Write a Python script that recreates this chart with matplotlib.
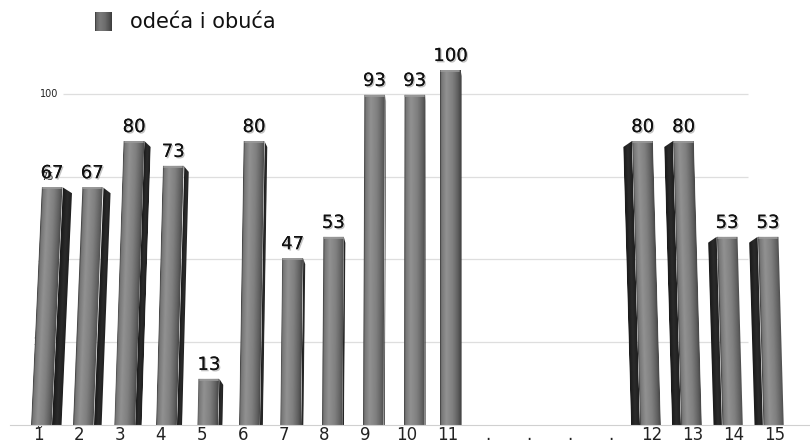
import numpy as np
import matplotlib.pyplot as plt
import matplotlib.transforms as mtransforms
from matplotlib.patches import Polygon
from matplotlib import patheffects

# x-axis slots: 11 days, a gap marked with dots, then 4 more days
tick_labels = ["1", "2", "3", "4", "5", "6", "7", "8", "9", "10", "11",
               ".", ".", ".", ".", "12", "13", "14", "15"]
bar_slots = [0, 1, 2, 3, 4, 5, 6, 7, 8, 9, 10, 15, 16, 17, 18]
values = [67, 67, 80, 73, 13, 80, 47, 53, 93, 93, 100, 80, 80, 53, 53]
grid_values = [0, 25, 50, 75, 100]
series_name = "odeća i obuća"

px_per_unit = 3.55      # bar height scale
px_per_slot = 40.94
depth = 0.933           # back wall grid sits a bit lower than bar fronts
front_w = 0.51          # width of the front face in slots

fig = plt.figure(figsize=(8.1, 4.45), dpi=100)
ax = fig.add_axes([10 / 810, 20 / 445, 800 / 810, 415 / 445])
xmin, xmax = -0.684, 18.857
ymax = 415 / px_per_unit

# horizontal shading profile of a bar front (left -> right)
prof_x = np.linspace(0, 1, 60)
front_profile = np.interp(prof_x, [0, 0.06, 0.3, 0.6, 0.85, 1.0],
                          [0.22, 0.46, 0.57, 0.5, 0.38, 0.27])
side_profile = np.interp(prof_x, [0, 0.5, 1.0], [0.1, 0.17, 0.12])


def shaded(pts, x0, x1, top, profile, tr):
    poly = Polygon(pts, closed=True, facecolor="none", edgecolor="none",
                   transform=tr)
    ax.add_patch(poly)
    im = ax.imshow(profile[np.newaxis, :], cmap="gray", vmin=0, vmax=1,
                   extent=(x0, x1, 0, top), aspect="auto",
                   interpolation="bilinear", zorder=3)
    im.set_transform(tr)
    im.set_clip_path(poly)


# back wall grid and its labels
for g in grid_values:
    gy = g * depth
    lab_right = 0.49 - 0.1 * (100 - g) / 25 if g > 0 else 0.1
    if g > 0:
        ax.hlines(gy, lab_right + 0.12, 17.34, color="#dedede",
                  linewidth=0.9, zorder=1)
    ax.text(lab_right, gy, str(g), ha="right", va="center",
            fontsize=7, color="#222222", zorder=1)

for slot, v in zip(bar_slots, values):
    chamfer = 1.7
    if slot <= 10:
        off = 0.2 if slot < 10 else 0.08
        side_w = 0.02 + 0.22 * ((10 - slot) / 10) ** 2
        lean = 0.045 * ((10 - slot) / 10) ** 1.5
        left = slot + off - (front_w + side_w) / 2
        fx0, fx1 = left, left + front_w
        sx0, sx1 = fx1, fx1 + side_w
        side_pts = [(sx0, 0), (sx1, 0), (sx1, v - chamfer), (sx0, v)]
    else:
        off = -0.15
        side_w = 0.22
        lean = -0.028
        left = slot + off - (front_w + side_w) / 2
        sx0, sx1 = left, left + side_w
        fx0, fx1 = sx1, sx1 + front_w
        side_pts = [(sx0, 0), (sx1, 0), (sx1, v), (sx0, v - chamfer)]
    k = lean * px_per_unit / px_per_slot
    tr = mtransforms.Affine2D(np.array([[1, k, 0], [0, 1, 0], [0, 0, 1]])) \
        + ax.transData
    shaded(side_pts, sx0, sx1, v, side_profile, tr)
    shaded([(fx0, 0), (fx1, 0), (fx1, v), (fx0, v)], fx0, fx1, v,
           front_profile, tr)
    ax.plot([fx0 + 0.03, fx1 - 0.03], [v - 0.3, v - 0.3], color="#9a9a9a",
            linewidth=1.2, zorder=4, solid_capstyle="round", transform=tr)
    ax.text((fx0 + fx1) / 2 + k * v, v + 1.4, str(v), ha="center",
            va="bottom", fontsize=13, color="#111111", zorder=5,
            path_effects=[patheffects.withSimplePatchShadow(
                offset=(1, -1), shadow_rgbFace="#888888", alpha=0.5),
                patheffects.Normal()])

ax.set_xlim(xmin, xmax)
ax.set_ylim(0, ymax)
ax.set_xticks(range(len(tick_labels)))
ax.set_xticklabels(tick_labels, fontsize=12, color="#222222")
ax.tick_params(axis="x", length=0, pad=1)
ax.set_yticks([])
for s in ["top", "left", "right"]:
    ax.spines[s].set_visible(False)
ax.spines["bottom"].set_color("#d0d0d0")
ax.spines["bottom"].set_zorder(6)

# legend swatch and name
sw = fig.add_axes([95 / 810, (445 - 31) / 445, 17 / 810, 19 / 445])
sw.imshow(front_profile[np.newaxis, :] * 0.85, cmap="gray", vmin=0, vmax=1,
          aspect="auto", interpolation="bilinear")
sw.axis("off")
fig.text(130 / 810, (445 - 22) / 445, series_name, fontsize=15,
         va="center", ha="left", color="#111111")

fig.savefig("out.png", dpi=100)
